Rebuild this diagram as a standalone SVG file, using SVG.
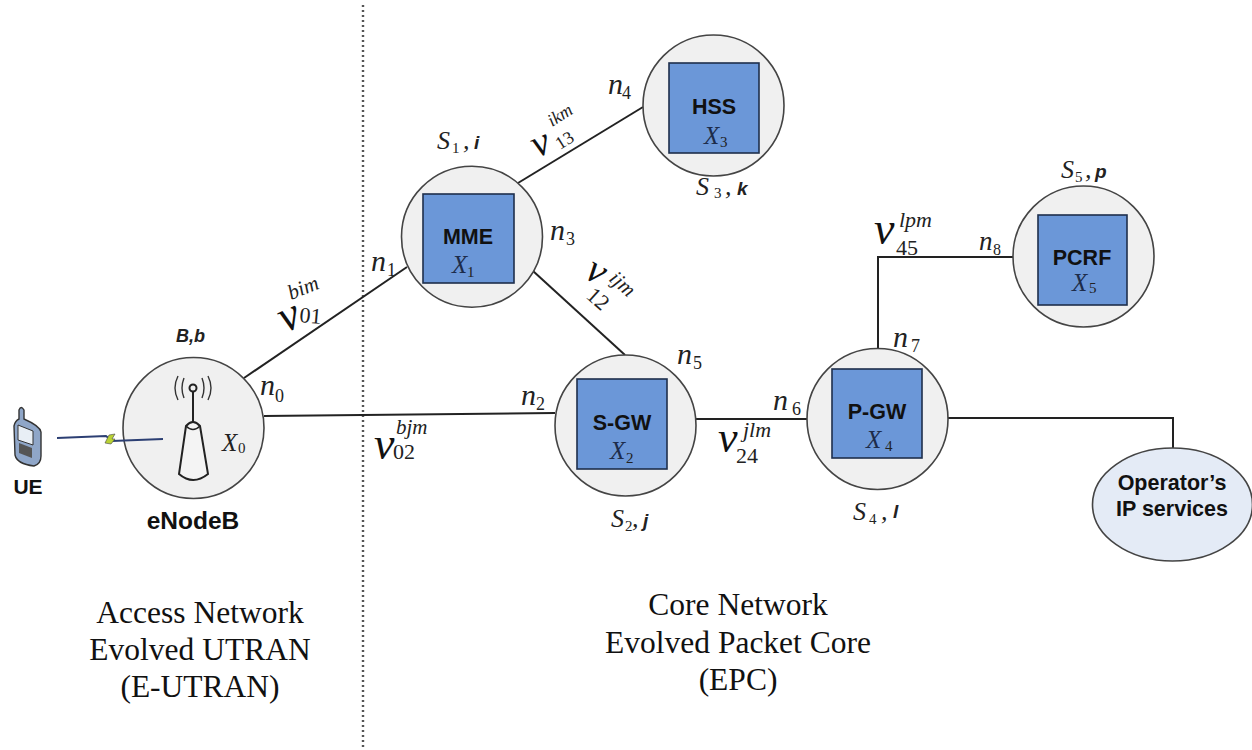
<svg xmlns="http://www.w3.org/2000/svg" width="1252" height="750" viewBox="0 0 1252 750">
<style>
.c{fill:#f0f0f0;stroke:#444;stroke-width:1.6}
.b{fill:#6b97d8;stroke:#1e2f4c;stroke-width:1.6}
.l{fill:none;stroke:#222;stroke-width:2}
.h{font:bold 21.5px "Liberation Sans",Arial,sans-serif;fill:#111;text-anchor:middle}
.s{font:italic 26px "Liberation Serif","Times New Roman",serif;fill:#222}
.x{font:italic 25px "Liberation Serif","Times New Roman",serif;fill:#1d2c4a}
.n{font:italic 30px "Liberation Serif","Times New Roman",serif;fill:#222}
.v{font:italic 46px "Liberation Serif","Times New Roman",serif;fill:#111}
.u{font:italic 21px "Liberation Serif","Times New Roman",serif;fill:#222}
.d{font:22px "Liberation Serif","Times New Roman",serif;fill:#222}
.m{font:15px "Liberation Serif","Times New Roman",serif;fill:#222}
.k{font:italic bold 19px "Liberation Sans",Arial,sans-serif;fill:#222}
.t{font:31.5px "Liberation Serif","Times New Roman",serif;fill:#111;text-anchor:middle}
</style>
<g id="divider"><line x1="363" y1="5" x2="363" y2="750" stroke="#555" stroke-width="2.4" stroke-dasharray="2 3"/></g>
<g id="connectors">
<line class="l" x1="244" y1="378" x2="407" y2="267"/>
<line class="l" x1="264" y1="416" x2="555" y2="413"/>
<line class="l" x1="518" y1="183" x2="643" y2="107"/>
<line class="l" x1="533" y1="271" x2="625" y2="355"/>
<line class="l" x1="696" y1="419" x2="807" y2="419"/>
<polyline class="l" points="878,349 878,257 1013,257"/>
<polyline class="l" points="948,418 1173,418 1173,448"/>
<g id="v01"><text class="v" transform="translate(285,333) rotate(-24)">v</text><text class="u" transform="translate(291,300) rotate(-22)">bim</text><text class="d" transform="translate(299,322) rotate(5)">01</text></g>
<g id="v02"><text class="v" x="374" y="459">v</text><text class="u" x="396" y="434">bjm</text><text class="d" x="393" y="459">02</text></g>
<g id="v13"><text class="v" transform="translate(537,158) rotate(-24)" style="font-size:40px">v</text><text class="u" transform="translate(552,127) rotate(-32)" style="font-size:18px">ikm</text><text class="d" transform="translate(560,150) rotate(-32)" style="font-size:18px">13</text></g>
<g id="v12"><text class="v" transform="translate(583,277) rotate(30)" style="font-size:40px">v</text><text class="u" transform="translate(608,280) rotate(42)">ijm</text><text class="d" transform="translate(585,297) rotate(42)">12</text></g>
<g id="v24"><text class="v" x="718" y="452" style="font-size:44px">v</text><text class="u" x="743" y="437" style="font-size:22px">jlm</text><text class="d" x="736" y="463">24</text></g>
<g id="v45"><text class="v" x="874" y="244">v</text><text class="u" x="899" y="227" style="font-size:22px">lpm</text><text class="d" x="896" y="255">45</text></g>
</g>
<g id="ue">
<path d="M19 410 L19 419 Q15 421 14 426 L15 455 Q17 464 34 466 Q41 464 41 456 L41 432 Q40 426 24 419 L24 410 Q21 405 19 410Z" fill="#8fa6c8" stroke="#333" stroke-width="1.4"/>
<path d="M18 425 L33 431 L33 445 L18 440Z" fill="#e8eef5" stroke="#333" stroke-width="1"/>
<path d="M19 443 L32 448 L32 458 L19 453Z" fill="#555"/>
<text class="h" x="28" y="494" style="font-size:21px">UE</text>
</g>
<g id="enodeb">
<circle class="c" cx="193.5" cy="428" r="70.5"/>
<polyline points="57,438 106,436 112,441 163,439" fill="none" stroke="#2c3f73" stroke-width="1.8"/>
<path d="M105 443 L109 435 L115 434 L112 439 L115 439 L111 444Z" fill="#b9d234" stroke="#444" stroke-width=".6"/>
<line x1="193" y1="392" x2="193" y2="422" stroke="#222" stroke-width="2"/>
<circle cx="193" cy="388" r="3.5" fill="none" stroke="#222" stroke-width="2"/>
<path d="M184 378 Q180 388 184 398 M178 376 Q172 388 178 400 M202 378 Q206 388 202 398 M208 376 Q214 388 208 400" fill="none" stroke="#333" stroke-width="1.4"/>
<path d="M186 426 Q193 418 200 426 L208 474 Q193 486 179 474Z" fill="#f4f4f4" stroke="#222" stroke-width="2"/>
<path d="M186 426 Q193 433 200 426" fill="none" stroke="#222" stroke-width="1.4"/>
<text class="x" x="222" y="451" style="fill:#222">X</text><text class="m" x="238" y="453">0</text>
<text class="k" x="176" y="342" style="font-size:18px">B,b</text>
<text class="h" x="193" y="529" style="font-size:24.5px">eNodeB</text>
<text class="n" x="260" y="395">n</text><text class="d" x="275" y="402" style="font-size:18px">0</text>
</g>
<g id="mme">
<circle class="c" cx="472" cy="236.7" r="70.5"/>
<rect class="b" x="423" y="194" width="91" height="89"/>
<text class="h" x="468" y="244">MME</text>
<text class="x" x="452" y="273">X</text><text class="m" x="467" y="277">1</text>
<text class="s" x="437" y="149">S</text><text class="m" x="452" y="153">1</text><text class="s" x="463" y="149">, </text><text class="k" x="474" y="149">i</text>
<text class="n" x="371" y="271">n</text><text class="d" x="387" y="276" style="font-size:18px">1</text>
<text class="n" x="550" y="240">n</text><text class="d" x="566" y="245" style="font-size:18px">3</text>
</g>
<g id="hss">
<circle class="c" cx="713.5" cy="105.5" r="70.5"/>
<rect class="b" x="669" y="63" width="90" height="90"/>
<text class="h" x="714" y="114">HSS</text>
<text class="x" x="704" y="144">X</text><text class="m" x="720" y="147">3</text>
<text class="s" x="696" y="195">S</text><text class="m" x="714" y="198">3</text><text class="s" x="725" y="195">,</text><text class="k" x="737" y="195">k</text>
<text class="n" x="608" y="94">n</text><text class="d" x="622" y="99" style="font-size:18px">4</text>
</g>
<g id="sgw">
<circle class="c" cx="625.5" cy="425.5" r="70.5"/>
<rect class="b" x="577" y="379" width="90" height="90"/>
<text class="h" x="622" y="430">S-GW</text>
<text class="x" x="610" y="459">X</text><text class="m" x="626" y="463">2</text>
<text class="s" x="611" y="527">S</text><text class="m" x="625" y="531">2</text><text class="s" x="632" y="527">,</text><text class="k" x="643" y="527">j</text>
<text class="n" x="521" y="405">n</text><text class="d" x="536" y="410" style="font-size:18px">2</text>
<text class="n" x="677" y="364">n</text><text class="d" x="693" y="369" style="font-size:18px">5</text>
</g>
<g id="pgw">
<circle class="c" cx="877.5" cy="419" r="70.5"/>
<rect class="b" x="832" y="369" width="90" height="89"/>
<text class="h" x="877" y="419">P-GW</text>
<text class="x" x="866" y="448">X</text><text class="m" x="885" y="451">4</text>
<text class="s" x="853" y="520">S</text><text class="m" x="869" y="524">4</text><text class="s" x="881" y="520">,</text><text class="k" x="893" y="518">l</text>
<text class="n" x="773" y="410">n</text><text class="d" x="792" y="415" style="font-size:18px">6</text>
<text class="n" x="893" y="347">n</text><text class="d" x="911" y="352" style="font-size:18px">7</text>
</g>
<g id="pcrf">
<circle class="c" cx="1083.5" cy="256.5" r="70.5"/>
<rect class="b" x="1038" y="215" width="89" height="90"/>
<text class="h" x="1082" y="265">PCRF</text>
<text class="x" x="1072" y="291">X</text><text class="m" x="1089" y="293">5</text>
<text class="s" x="1061" y="178">S</text><text class="m" x="1075" y="182">5</text><text class="s" x="1085" y="178">,</text><text class="k" x="1095" y="178">p</text>
<text class="n" x="979" y="250" style="font-size:27px">n</text><text class="d" x="993" y="255" style="font-size:16px">8</text>
</g>
<g id="ip">
<ellipse cx="1172.5" cy="504.5" rx="80" ry="56.5" fill="#e4ebf6" stroke="#444" stroke-width="1.6"/>
<text class="h" x="1172" y="490">Operator’s</text>
<text class="h" x="1172" y="516">IP services</text>
</g>
<g id="captions">
<text class="t" x="200" y="623">Access Network</text>
<text class="t" x="200" y="660">Evolved UTRAN</text>
<text class="t" x="200" y="697">(E-UTRAN)</text>
<text class="t" x="738" y="615">Core Network</text>
<text class="t" x="738" y="653">Evolved Packet Core</text>
<text class="t" x="738" y="690">(EPC)</text>
</g>
</svg>
